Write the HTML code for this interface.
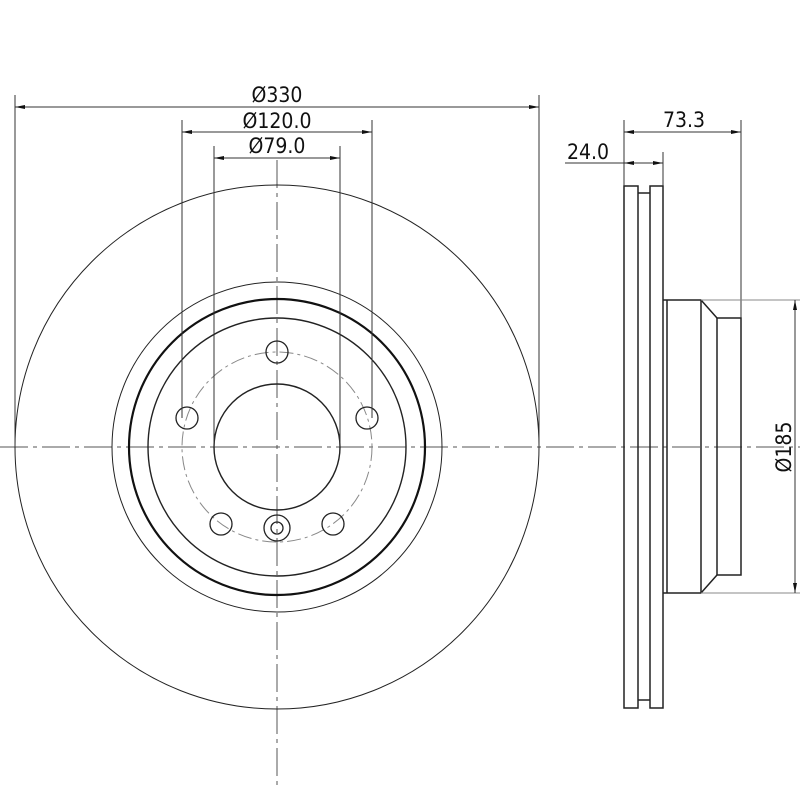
<!DOCTYPE html>
<html><head><style>body{margin:0;background:#fff}svg{display:block}text{font-family:"DejaVu Sans Condensed","Liberation Sans Narrow","Liberation Sans",sans-serif;font-size:21px;fill:#111}</style></head><body>
<svg width="800" height="800" viewBox="0 0 800 800" xmlns="http://www.w3.org/2000/svg">
<defs><marker id="a" viewBox="0 0 10 4" refX="10" refY="2" markerWidth="10" markerHeight="4" orient="auto-start-reverse" markerUnits="userSpaceOnUse"><path d="M0,0L10,2L0,4z" fill="#111"/></marker></defs>
<g stroke="#333" stroke-width="1" fill="none">
<!-- centerlines -->
<line x1="0" y1="447" x2="800" y2="447" stroke-dasharray="28,5,4,5" stroke="#555"/>
<line x1="277" y1="160" x2="277" y2="790" stroke-dasharray="28,5,4,5" stroke="#555"/>
<!-- front view -->
<circle cx="277" cy="447" r="262" stroke="#222"/>
<circle cx="277" cy="447" r="165" stroke="#222"/>
<circle cx="277" cy="447" r="148" stroke="#111" stroke-width="2.2"/>
<circle cx="277" cy="447" r="129" stroke="#222" stroke-width="1.4"/>
<circle cx="277" cy="447" r="95" stroke="#888" stroke-dasharray="14,4,3,4"/>
<circle cx="277" cy="447" r="63" stroke="#222" stroke-width="1.4"/>
<g stroke="#222" stroke-width="1.3">
<circle cx="277" cy="352" r="11"/><circle cx="367" cy="418" r="11"/><circle cx="187" cy="418" r="11"/>
<circle cx="333" cy="524" r="11"/><circle cx="221" cy="524" r="11"/>
<circle cx="277" cy="528" r="13"/><circle cx="277" cy="528" r="6"/>
</g>
<!-- dims front -->
<line x1="15" y1="95" x2="15" y2="447"/><line x1="539" y1="95" x2="539" y2="447"/>
<line x1="15" y1="107" x2="539" y2="107" marker-start="url(#a)" marker-end="url(#a)"/>
<line x1="182" y1="120" x2="182" y2="418"/><line x1="372" y1="120" x2="372" y2="418"/>
<line x1="182" y1="132" x2="372" y2="132" marker-start="url(#a)" marker-end="url(#a)"/>
<line x1="214" y1="146" x2="214" y2="447"/><line x1="340" y1="146" x2="340" y2="447"/>
<line x1="214" y1="158" x2="340" y2="158" marker-start="url(#a)" marker-end="url(#a)"/>
<!-- side view -->
<g stroke="#222" stroke-width="1.5">
<path d="M624,708V186h14v522zM650,708V186h13v522z"/>
<path d="M638,193h12M638,700h12"/>
<path d="M663,300H701L717,318H741V575H717L701,593H663"/>
<path d="M667,300V593M701,300V593M717,318V575"/>
</g>
<line x1="624" y1="120" x2="624" y2="186"/><line x1="741" y1="120" x2="741" y2="318"/>
<line x1="624" y1="132" x2="741" y2="132" marker-start="url(#a)" marker-end="url(#a)"/>
<line x1="663" y1="152" x2="663" y2="186"/>
<line x1="565" y1="163" x2="663" y2="163"/>
<line x1="624" y1="163" x2="663" y2="163" marker-start="url(#a)" marker-end="url(#a)"/>
<line x1="701" y1="300" x2="800" y2="300" stroke="#888"/><line x1="701" y1="593" x2="800" y2="593" stroke="#888"/>
<line x1="795" y1="300" x2="795" y2="593" marker-start="url(#a)" marker-end="url(#a)"/>
</g>
<text x="277" y="102" text-anchor="middle">Ø330</text>
<text x="277" y="128" text-anchor="middle">Ø120.0</text>
<text x="277" y="153" text-anchor="middle">Ø79.0</text>
<text x="684" y="127" text-anchor="middle">73.3</text>
<text x="588" y="159" text-anchor="middle">24.0</text>
<text transform="translate(791,447) rotate(-90)" text-anchor="middle">Ø185</text>
</svg>
</body></html>
